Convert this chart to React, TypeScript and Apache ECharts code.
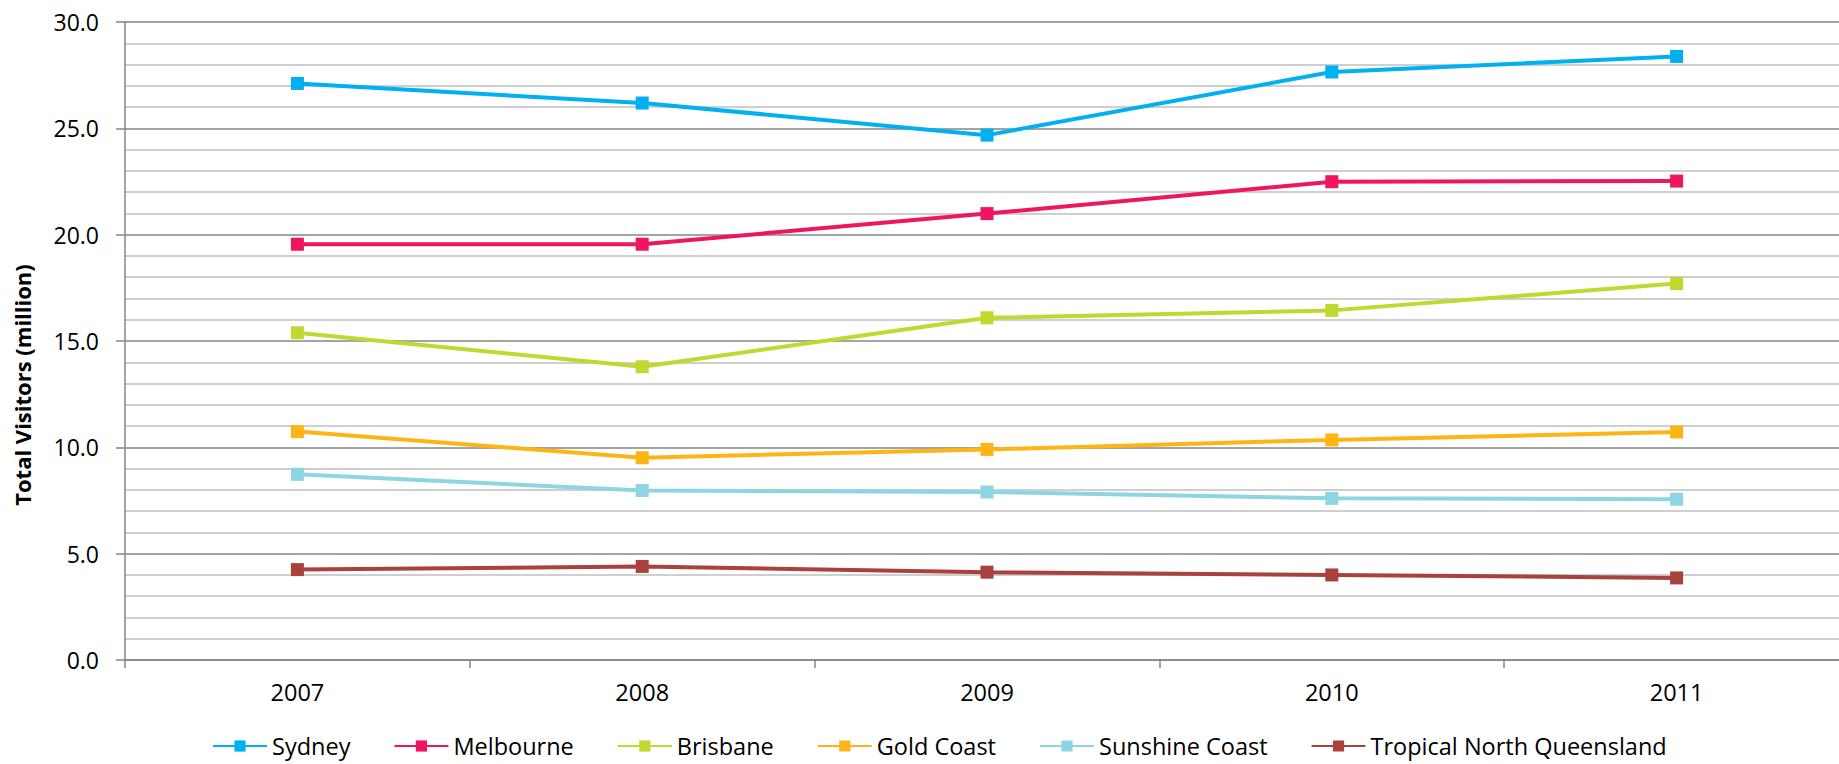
import React, { useEffect, useRef } from "react";
import * as echarts from "echarts";

const years = ["2007", "2008", "2009", "2010", "2011"];
const sydney = [27.11, 26.19, 24.68, 27.65, 28.38];
const melbourne = [19.55, 19.55, 20.99, 22.49, 22.52];
const brisbane = [15.39, 13.79, 16.09, 16.44, 17.7];
const goldCoast = [10.74, 9.51, 9.9, 10.35, 10.72];
const sunshineCoast = [8.73, 7.97, 7.9, 7.6, 7.56];
const tropicalNQ = [4.25, 4.4, 4.13, 4.0, 3.86];

const seriesNames = ["Sydney", "Melbourne", "Brisbane", "Gold Coast", "Sunshine Coast", "Tropical North Queensland"];
const seriesData = [sydney, melbourne, brisbane, goldCoast, sunshineCoast, tropicalNQ];
const seriesColors = ["#00B0F0", "#EE1660", "#C0D830", "#FDB515", "#8DD5E2", "#A9423D"];

const FONT = "Open Sans";

export default function App() {
  const ref = useRef<HTMLDivElement>(null);
  useEffect(() => {
    if (!ref.current) return;
    const chart = echarts.init(ref.current, undefined, { renderer: "svg" });
    chart.setOption({
      animation: false,
      backgroundColor: "#ffffff",
      textStyle: { fontFamily: FONT },
      grid: {
        left: 125,
        top: 22,
        width: 1724,
        height: 638,
        containLabel: false,
        outerBoundsMode: "none",
      },
      legend: {
        left: 207,
        top: 729,
        itemWidth: 54,
        itemHeight: 14,
        itemGap: 43,
        textStyle: { fontFamily: FONT, fontSize: 23.5, color: "#000" },
        data: seriesNames,
      },
      xAxis: {
        type: "category",
        data: years,
        boundaryGap: true,
        axisLine: { show: true, lineStyle: { color: "#868686", width: 1.5 } },
        axisTick: { show: true, length: 8, inside: false, lineStyle: { color: "#868686", width: 1.5 } },
        axisLabel: { fontFamily: FONT, fontSize: 23.5, color: "#000", margin: 20 },
        splitLine: { show: false },
      },
      yAxis: {
        type: "value",
        min: 0,
        max: 30,
        interval: 5,
        axisLine: { show: true, lineStyle: { color: "#868686", width: 1.5 } },
        axisTick: { show: true, length: 9, lineStyle: { color: "#868686", width: 1.5 } },
        axisLabel: {
          fontFamily: FONT,
          fontSize: 23,
          color: "#000",
          margin: 26,
          formatter: (v: number) => v.toFixed(1),
        },
        splitLine: { show: true, lineStyle: { color: "#868686", width: 1.5 } },
        minorTick: { show: false, splitNumber: 5 },
        minorSplitLine: { show: true, lineStyle: { color: "#BFBFBF", width: 1.5 } },
      },
      graphic: [
        {
          type: "text",
          x: 22,
          y: 385,
          rotation: Math.PI / 2,
          style: {
            text: "Total Visitors (million)",
            fontFamily: FONT,
            fontSize: 22,
            fontWeight: "bold",
            fill: "#000",
            align: "center",
            verticalAlign: "middle",
          },
        },
      ],
      series: seriesNames.map((name, i) => ({
        name,
        type: "line",
        data: seriesData[i],
        symbol: "rect",
        symbolSize: 13,
        showSymbol: true,
        lineStyle: { color: seriesColors[i], width: 4 },
        itemStyle: { color: seriesColors[i] },
        emphasis: { disabled: true },
      })),
    });
    return () => chart.dispose();
  }, []);
  return (
    <div
      ref={ref}
      style={{ position: "fixed", left: 0, top: 0, width: 1839, height: 764 }}
    />
  );
}
